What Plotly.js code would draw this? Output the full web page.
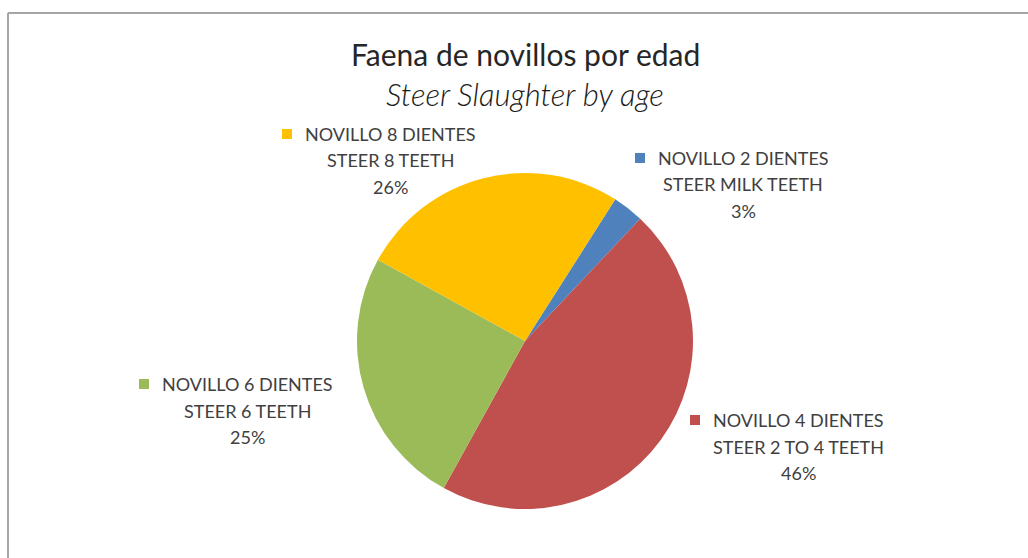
<!DOCTYPE html>
<html>
<head>
<meta charset="utf-8">
<script src="https://cdn.plot.ly/plotly-3.0.1.min.js"></script>
<style>
  html, body { margin: 0; padding: 0; background: #ffffff; }
  #chart { width: 1028px; height: 558px; }
</style>
</head>
<body>
<div id="chart"></div>
<script>
// ---- data ----
const categories = ["NOVILLO 2 DIENTES", "NOVILLO 4 DIENTES", "NOVILLO 6 DIENTES", "NOVILLO 8 DIENTES"];
const subLabels = ["STEER MILK TEETH", "STEER 2 TO 4 TEETH", "STEER 6 TEETH", "STEER 8 TEETH"];
const values = [3, 46, 25, 26];
const colors = ["#4F81BD", "#C0504D", "#9BBB59", "#FFC000"];
const titleText = "Faena de novillos por edad";
const subtitleText = "Steer Slaughter by age";

// ---- layout helpers (pixel positions of label blocks: centre x, first-line y) ----
const W = 1028, H = 558;
const labelPos = [[743, 158], [798, 420], [247, 384], [390, 134]];
const lineGap = 26.5;
const font = "Lato, 'Open Sans', sans-serif";
const px = x => x / W;
const py = y => 1 - y / H;

const total = values.reduce((a, b) => a + b, 0);
const annotations = [];
const shapes = [];

annotations.push({xref: "paper", yref: "paper", x: px(525), y: py(54), text: titleText,
  showarrow: false, xanchor: "center", yanchor: "middle",
  font: {family: font, size: 30, color: "#262626", weight: 400}});
annotations.push({xref: "paper", yref: "paper", x: px(525), y: py(94), text: "<i>" + subtitleText + "</i>",
  showarrow: false, xanchor: "center", yanchor: "middle",
  font: {family: font, size: 31, color: "#1a1a1a", weight: 300}});

categories.forEach((c, i) => {
  const [cx, cy] = labelPos[i];
  const pct = Math.round(values[i] / total * 100) + "%";
  const lines = [c, subLabels[i], pct];
  lines.forEach((t, k) => {
    annotations.push({xref: "paper", yref: "paper", x: px(cx), y: py(cy + k * lineGap), text: t,
      showarrow: false, xanchor: "center", yanchor: "middle",
      font: {family: font, size: 18, color: "#404040"}});
  });
  // legend key square left of first line
  const halfW = 86;
  shapes.push({type: "rect", xref: "paper", yref: "paper",
    x0: px(cx - halfW - 22), x1: px(cx - halfW - 12), y0: py(cy + 5), y1: py(cy - 5),
    fillcolor: colors[i], line: {width: 0}});
});

// chart border (top and left edges visible)
shapes.push({type: "line", xref: "paper", yref: "paper", x0: px(8), x1: px(1028), y0: py(13), y1: py(13),
  line: {color: "#a6a6a6", width: 2}});
shapes.push({type: "line", xref: "paper", yref: "paper", x0: px(8), x1: px(8), y0: py(13), y1: py(558),
  line: {color: "#a6a6a6", width: 2}});

const trace = {
  type: "pie",
  labels: categories,
  values: values,
  sort: false,
  direction: "clockwise",
  rotation: 32.5,
  marker: {colors: colors, line: {width: 0}},
  textinfo: "none",
  hoverinfo: "label+percent",
  domain: {x: [px(357), px(693)], y: [py(509), py(173)]},
  showlegend: false
};

const layout = {
  width: W, height: H,
  margin: {l: 0, r: 0, t: 0, b: 0},
  paper_bgcolor: "#ffffff",
  showlegend: false,
  annotations: annotations,
  shapes: shapes
};

Plotly.newPlot("chart", [trace], layout, {displayModeBar: false, staticPlot: true});
</script>
</body>
</html>
